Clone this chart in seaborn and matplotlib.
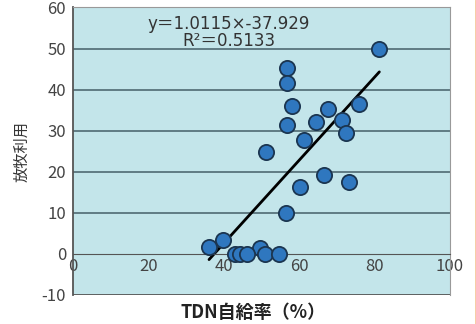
import numpy as np
import pandas as pd
import seaborn as sns
import matplotlib.pyplot as plt
from matplotlib.lines import Line2D

# TDN self-sufficiency (%) vs grazing use
tdn = [81.3, 56.7, 56.7, 58.2, 56.9, 67.6, 64.5, 76.0, 71.4, 72.4, 61.3, 51.2,
       66.5, 73.3, 60.3, 56.5, 36.1, 39.9, 49.6, 43.0, 44.3, 46.1, 51.0, 54.7]
grazing = [49.8, 45.2, 41.7, 36.0, 31.4, 35.3, 32.1, 36.6, 32.5, 29.3, 27.8, 24.8,
           19.1, 17.5, 16.2, 9.9, 1.6, 3.3, 1.5, 0.0, 0.0, 0.0, 0.0, 0.0]
slope, intercept = 1.0115, -37.929
x_ticks = [0, 20, 40, 60, 80, 100]
y_ticks = [-10, 0, 10, 20, 30, 40, 50, 60]

df = pd.DataFrame({'tdn': tdn, 'grazing': grazing})

sns.set_style('white')
plt.rcParams['font.family'] = ['Noto Sans CJK JP', 'DejaVu Sans']
plt.rcParams['axes.unicode_minus'] = False

fig = plt.figure(figsize=(4.77, 3.24), dpi=100)
ax = fig.add_axes([0.153, 0.09, 0.79, 0.887])
ax.set_facecolor('#c3e5ea')

for yv in [10, 20, 30, 40, 50]:
    ax.axhline(yv, color='#4f6a72', lw=1.2, zorder=1)

# trend line over the data range
xl = np.array([min(tdn), max(tdn)])
ax.plot(xl, slope * xl + intercept, color='black', lw=2, zorder=2)

sns.scatterplot(data=df, x='tdn', y='grazing', ax=ax, s=120, color='#2f77bf',
                edgecolor='#1b3550', linewidth=1.3, zorder=3)

ax.set_xlim(0, 100)
ax.set_ylim(-10, 60)
ax.set_xticks(x_ticks)
ax.set_yticks(y_ticks)
ax.spines['bottom'].set_position(('data', 0))
ax.spines['bottom'].set_color('#555555')
ax.spines['left'].set_color('#555555')
ax.spines['left'].set_linewidth(1.3)
ax.spines['top'].set_color('#999999')
ax.spines['right'].set_color('#999999')
ax.axhline(-10, color='#555555', lw=1.3, zorder=1)
ax.tick_params(axis='x', direction='inout', length=4, colors='#555555',
               labelcolor='#444444', labelsize=12, pad=1)
ax.tick_params(axis='y', length=0, labelcolor='#444444', labelsize=12, pad=5)
for lab in ax.get_xticklabels():
    lab.set_zorder(5)

ax.set_xlabel('')
ax.set_ylabel('放牧利用', fontsize=11, color='#333333', labelpad=8)
fig.text(0.53, 0.035, 'TDN自給率（%）', ha='center', va='center',
         fontsize=13, color='#222222', fontweight='bold')

ax.text(41.4, 53.9, 'y＝1.0115×-37.929\nR²＝0.5133', ha='center', va='center',
        multialignment='center', linespacing=0.9,
        fontsize=12, color='#333333', family=['DejaVu Sans', 'Noto Sans CJK JP'])

fig.add_artist(Line2D([0.997, 0.997], [0, 1], color='#f6c99c', lw=2,
                      transform=fig.transFigure))

fig.savefig('out.png', dpi=100)
